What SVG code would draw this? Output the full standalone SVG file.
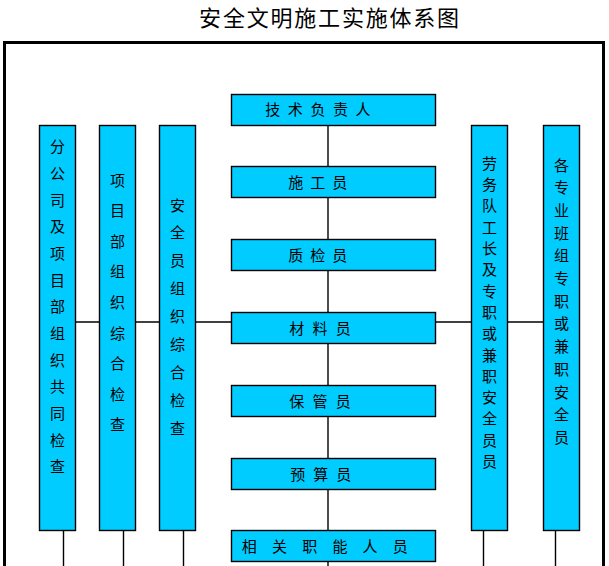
<svg xmlns="http://www.w3.org/2000/svg" width="609" height="566" viewBox="0 0 609 566">
<style>
.box{fill:#00CCFF;stroke:#000;stroke-width:1.4}
.ln{stroke:#000;stroke-width:1.4;fill:none}
.t{font-family:"Noto Sans CJK SC","Noto Sans",sans-serif;font-size:15px;fill:#000;text-anchor:middle}
.title{font-family:"Noto Sans CJK SC","Noto Sans",sans-serif;font-size:22px;letter-spacing:1.8px;fill:#000;text-anchor:middle}
</style>
<rect x="0" y="0" width="609" height="566" fill="#fff"/>
<text class="title" x="330" y="25.8">安全文明施工实施体系图</text>
<path d="M4.5,570 V42.5 H603.5 V570" fill="none" stroke="#000" stroke-width="3"/>
<g id="connectors">
<path class="ln" d="M328,125 V566"/>
<path class="ln" d="M76,322 H543"/>
<path class="ln" d="M63.5,530 V566 M123.5,530 V566 M183.5,530 V566 M483.5,530 V566 M555.5,530 V566"/>
</g>
<g id="n1"><rect class="box" x="231.5" y="94.5" width="204" height="31"/><text class="t" x="272.7 295.3 317.9 340.5 363.1" y="115.3">技术负责人</text></g>
<g id="n2"><rect class="box" x="231.5" y="166.5" width="204" height="31"/><text class="t" x="295.7 317.7 339.7" y="187.5">施工员</text></g>
<g id="n3"><rect class="box" x="231.5" y="239.5" width="204" height="31"/><text class="t" x="295.7 317.7 339.7" y="260.5">质检员</text></g>
<g id="n4"><rect class="box" x="231.5" y="312.5" width="204" height="31"/><text class="t" x="296.7 320 343.3" y="333.5">材料员</text></g>
<g id="n5"><rect class="box" x="231.5" y="385.5" width="204" height="31"/><text class="t" x="296.7 320 343.3" y="406.5">保管员</text></g>
<g id="n6"><rect class="box" x="231.5" y="458.5" width="204" height="31"/><text class="t" x="297.7 320.7 343.7" y="479.5">预算员</text></g>
<g id="n7"><rect class="box" x="231.5" y="530.5" width="204" height="31"/><text class="t" x="249.3 279.5 309.7 339.9 370.1 400.3" y="552">相关职能人员</text></g>
<g id="l1"><rect class="box" x="39.5" y="125.5" width="36" height="405"/><text class="t" x="57.5 57.5 57.5 57.5 57.5 57.5 57.5 57.5 57.5 57.5 57.5 57.5 57.5" y="152.2 178.9 205.5 232.2 258.9 285.6 312.2 338.9 365.6 392.2 418.9 445.6 472.2">分公司及项目部组织共同检查</text></g>
<g id="l2"><rect class="box" x="99.5" y="125.5" width="36" height="405"/><text class="t" x="117.5 117.5 117.5 117.5 117.5 117.5 117.5 117.5 117.5" y="185.5 216.1 246.7 277.3 307.9 338.5 369.1 399.7 430.3">项目部组织综合检查</text></g>
<g id="l3"><rect class="box" x="159.5" y="125.5" width="36" height="405"/><text class="t" x="177.5 177.5 177.5 177.5 177.5 177.5 177.5 177.5 177.5" y="210.5 238.4 266.3 294.2 322.1 350 377.9 405.8 433.7">安全员组织综合检查</text></g>
<g id="r1"><rect class="box" x="471.5" y="125.5" width="36" height="405"/><text class="t" x="489.5 489.5 489.5 489.5 489.5 489.5 489.5 489.5 489.5 489.5 489.5 489.5 489.5 489.5 489.5" y="168.8 190.1 211.4 232.7 254 275.3 296.6 317.9 339.2 360.5 381.8 403.1 424.4 445.7 467">劳务队工长及专职或兼职安全员员</text></g>
<g id="r2"><rect class="box" x="543.5" y="125.5" width="36" height="405"/><text class="t" x="561.5 561.5 561.5 561.5 561.5 561.5 561.5 561.5 561.5 561.5 561.5 561.5 561.5" y="170.5 193.2 215.9 238.6 261.3 284 306.7 329.4 352.1 374.8 397.5 420.2 442.9">各专业班组专职或兼职安全员</text></g>
</svg>
